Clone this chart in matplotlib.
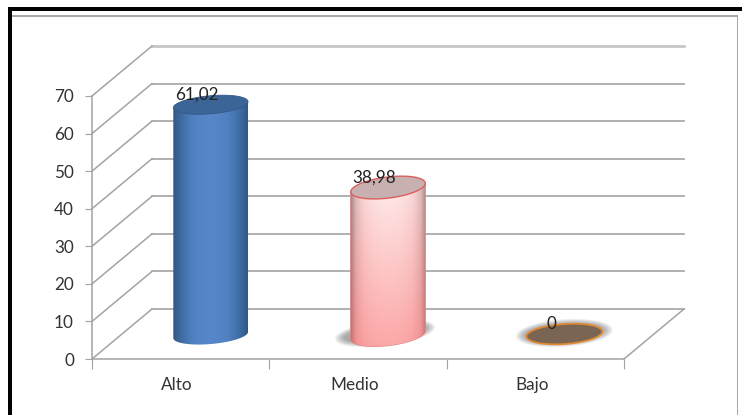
import matplotlib
matplotlib.use("Agg")
import matplotlib.pyplot as plt
import numpy as np
from matplotlib.patches import Polygon, Rectangle
from matplotlib.transforms import Affine2D, IdentityTransform
from matplotlib.colors import LinearSegmentedColormap

categories = ["Alto", "Medio", "Bajo"]
values = [61.02, 38.98, 0]
value_labels = ["61,02", "38,98", "0"]
yticks = [0, 10, 20, 30, 40, 50, 60, 70]

W, H = 742, 415
GRID = "#a3a3a3"
TXT = "#333333"
FS = 12.3
plt.rcParams["font.family"] = ["Lato", "DejaVu Sans"]

fig = plt.figure(figsize=(W / 100, H / 100), dpi=100, facecolor="white")
ax = fig.add_axes([92 / W, (H - 359) / H, 532 / W, 263 / H], facecolor="none")
ax.set_xlim(0, 3)
ax.set_ylim(0, 70)
ax.set_autoscale_on(False)

for s in ["top", "right"]:
    ax.spines[s].set_visible(False)
for s in ["left", "bottom"]:
    ax.spines[s].set_color(GRID)
    ax.spines[s].set_linewidth(1.1)

ax.set_yticks(yticks)
ax.set_xticks([0, 1, 2, 3])
ax.set_xticklabels([])
ax.set_xticks(np.arange(3) + 0.48, labels=categories, minor=True)
ax.tick_params(axis="y", length=5, color=GRID, labelsize=FS, labelcolor=TXT, pad=8)
ax.tick_params(axis="x", which="major", length=7, color=GRID)
ax.tick_params(axis="x", which="minor", length=0, labelsize=FS, labelcolor=TXT, pad=13)

# back wall and floor, shifted by the 3d depth
back = Affine2D().translate(60, 50)
back_tr = ax.transData + back
for v in yticks:
    top_line = v == yticks[-1]
    ax.plot([0, 3], [v, v], color="#c6c6c6" if top_line else GRID, lw=2.0 if top_line else 1.2,
            transform=back_tr, clip_on=False, zorder=1)
    x0, y0 = ax.transData.transform((0, v))
    ax.plot([x0, x0 + 60], [y0, y0 + 50], color=GRID, lw=1.1,
            transform=IdentityTransform(), clip_on=False, zorder=1)
x1, y1 = ax.transData.transform((3, 0))
ax.plot([x1, x1 + 60], [y1, y1 + 50], color=GRID, lw=1.1,
        transform=IdentityTransform(), clip_on=False, zorder=1)


def ell(cx, cy, w, h, ang, t):
    a = np.deg2rad(ang)
    ex, ey = w / 2 * np.cos(t), h / 2 * np.sin(t)
    return np.column_stack([cx + ex * np.cos(a) - ey * np.sin(a),
                            cy + ex * np.sin(a) + ey * np.cos(a)])


def add_poly(pts, z, **kw):
    p = Polygon(pts, closed=True, transform=IdentityTransform(), clip_on=False, zorder=z, **kw)
    ax.add_patch(p)
    return p


def shadow(cx, cy, w, h, ang, z, alpha):
    full = np.linspace(0, 2 * np.pi, 80)
    for g in np.linspace(12, 0, 9):
        add_poly(ell(cx, cy, w + g * 1.6, h + g * 0.8, ang, full), z, fc="#555555", ec="none", alpha=alpha)


def body(i, v, z, img, edge, w, h, ang):
    cx, cy = ax.transData.transform((i + 0.5, 0))
    cx += 30
    cy += 24
    top = ax.transData.transform((i + 0.5, v))[1] + 25
    lower = np.linspace(np.pi, 2 * np.pi, 60)
    pts = np.vstack([ell(cx, top, w, h, ang, np.array([np.pi])),
                     ell(cx, cy, w, h, ang, lower),
                     ell(cx, top, w, h, ang, np.array([0.0]))])
    clip = add_poly(pts, z, fc="none", ec=edge, lw=0.9)
    im = ax.imshow(img, extent=(cx - w / 2 - 1, cx + w / 2 + 1, cy - h, top + h), aspect="auto",
                   transform=IdentityTransform(), zorder=z, interpolation="bilinear")
    im.set_clip_path(clip)
    return cx, cy, top


u = np.abs(np.linspace(-1, 1, 80))

# Alto
blue = LinearSegmentedColormap.from_list("b", ["#5787c9", "#4f7fbe", "#3f6ca3", "#2f5684"])
img_a = blue(u ** 1.5)[None, :, :3]
cx, cy, top = body(0, values[0], 3, img_a, "none", 75, 18, 5)
add_poly(ell(cx, top, 75, 18, 5, np.linspace(0, 2 * np.pi, 80)), 4, fc="#3b6597", ec="#34598a", lw=0.6)

# Medio
cx, cy = ax.transData.transform((1.5, 0)) + np.array([30, 25])
shadow(cx - 3, cy + 1, 82, 16, 7, 2, 0.07)
up = LinearSegmentedColormap.from_list("u", ["#fff0f0", "#f8dede", "#dcc0c0", "#9a8080"])
dn = LinearSegmentedColormap.from_list("d", ["#fca4a4", "#f99c9c", "#ef8e8e", "#c86a6a"])
mix = np.linspace(0, 1, 60)[:, None, None]
img_m = mix * up(u ** 2.5)[None, :, :3] + (1 - mix) * dn(u ** 2.5)[None, :, :3]
cx, cy, top = body(1, values[1], 3, img_m[::-1], "#e08a8a", 75, 21, 7)
add_poly(ell(cx, top, 75, 21, 7, np.linspace(0, 2 * np.pi, 80)), 4, fc="#c9b0b0", ec="#d9605f", lw=1.0)

# Bajo
cx, cy = ax.transData.transform((2.5, 0)) + np.array([29, 25])
shadow(cx, cy + 1, 78, 18, 4, 2, 0.07)
add_poly(ell(cx, cy, 76, 20, 4, np.linspace(0, 2 * np.pi, 80)), 4, fc="#7a6552", ec="#e08a35", lw=1.3)

# data labels
for i, v in enumerate(values):
    ax.annotate(value_labels[i], xy=(i + 0.5, v), xytext=(16, 25 + 10), textcoords="offset pixels",
                ha="center", va="center", fontsize=FS, color="#222222", zorder=6, annotation_clip=False)

# picture frame
fig.add_artist(Rectangle((8 / W, 0), 4 / W, (H - 7) / H, fc="black", ec="none"))
fig.add_artist(Rectangle((8 / W, (H - 11) / H), 734 / W, 4 / H, fc="black", ec="none"))
fig.add_artist(Rectangle((12 / W, (H - 17) / H), 725.5 / W, 1.5 / H, fc="#a8a8a8", ec="none"))
fig.add_artist(Rectangle((736.5 / W, 0), 1.2 / W, (H - 16) / H, fc="#a8a8a8", ec="none"))

fig.savefig("out.png", dpi=100)
